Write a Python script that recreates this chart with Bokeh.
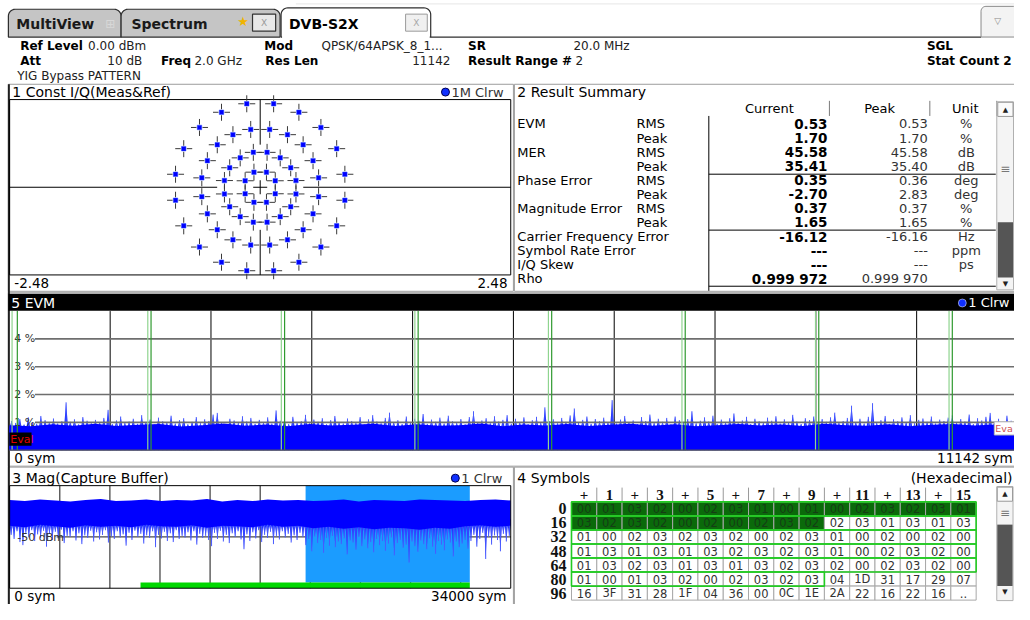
import numpy as np
from bokeh.plotting import figure
from bokeh.models import Range1d
from bokeh.core.properties import value
from bokeh.embed import file_html
from bokeh.resources import INLINE

# ======================= DATA =======================
# Constellation (I/Q) points, 64APSK rings
const_i = [0.062, 0.149, 0.068, 0.198, 0.302, 0.354, 0.094, 0.270, 0.425, 0.523, 0.578, 0.133, 0.383, 0.601, 0.757, 0.838,
           -0.062, -0.149, -0.068, -0.198, -0.302, -0.354, -0.094, -0.270, -0.425, -0.523, -0.578, -0.133, -0.383, -0.601, -0.757, -0.838,
           -0.062, -0.149, -0.068, -0.198, -0.302, -0.354, -0.094, -0.270, -0.425, -0.523, -0.578, -0.133, -0.383, -0.601, -0.757, -0.838,
           0.062, 0.149, 0.068, 0.198, 0.302, 0.354, 0.094, 0.270, 0.425, 0.523, 0.578, 0.133, 0.383, 0.601, 0.757, 0.838]
const_q = [0.151, 0.065, 0.349, 0.294, 0.195, 0.067, 0.578, 0.526, 0.425, 0.266, 0.094, 0.835, 0.750, 0.598, 0.386, 0.130,
           0.151, 0.065, 0.349, 0.294, 0.195, 0.067, 0.578, 0.526, 0.425, 0.266, 0.094, 0.835, 0.750, 0.598, 0.386, 0.130,
           -0.151, -0.065, -0.349, -0.294, -0.195, -0.067, -0.578, -0.526, -0.425, -0.266, -0.094, -0.835, -0.750, -0.598, -0.386, -0.130,
           -0.151, -0.065, -0.349, -0.294, -0.195, -0.067, -0.578, -0.526, -0.425, -0.266, -0.094, -0.835, -0.750, -0.598, -0.386, -0.130]
IQ_XMAX = 2.48
IQ_YMAX = 0.877

# EVM vs symbol (percent)
EVM_LEN = 11142
evm_pct = [1.05, 0.98, 1.12, 0.92, 1.18, 1.01, 0.95, 1.23, 1.08, 0.99, 1.14, 0.96, 1.04, 1.72, 1.02, 1.11, 0.93, 1.19, 1.06, 0.97,
           1.09, 1.00, 1.16, 1.45, 0.94, 1.07, 1.21, 0.98, 1.03, 1.13, 0.95, 1.26, 1.01, 1.10, 0.92, 1.17, 1.04, 0.99, 1.24, 0.96,
           1.08, 1.15, 0.93, 1.02, 1.19, 0.97, 1.11, 1.05, 1.28, 1.34, 1.00, 0.92, 1.13, 1.07, 0.98, 1.22, 1.03, 1.16, 0.95, 1.09,
           1.01, 1.18, 0.96, 1.43, 1.06, 1.12, 0.94, 1.20, 0.99, 1.04, 1.27, 0.97, 1.10, 1.02, 1.15, 0.93, 1.08, 1.23, 1.00, 0.96,
           1.14, 1.05, 0.98, 1.19, 0.92, 1.11, 1.26, 1.03, 0.97, 1.16, 1.35, 1.01, 1.08, 0.94, 1.21, 0.99, 1.13, 1.06, 1.30, 0.95,
           1.10, 1.02, 1.17, 0.96, 1.24, 1.04, 0.98, 1.12, 0.93, 1.19, 1.40, 1.00, 1.07, 1.15, 0.97, 1.22, 1.03, 1.09, 1.26, 0.95,
           1.13, 1.01, 1.18, 0.94, 1.08, 1.20, 0.99, 1.54, 1.05, 1.11, 0.97, 1.16, 1.02, 1.25, 1.50, 0.98, 1.09, 1.21, 0.95, 1.12,
           1.04, 1.17, 1.00, 1.80, 0.96, 1.10, 1.23, 1.01, 1.07, 0.94, 1.19, 1.05, 1.28, 0.98, 1.13, 1.02, 1.16, 0.93, 1.21, 1.08,
           0.99, 1.12, 1.40, 0.97, 1.06, 1.18, 1.03, 1.24, 0.95, 1.10, 1.01, 1.15, 1.32, 0.98, 1.07, 1.20, 0.94, 1.13, 1.04, 0.99,
           1.17, 1.06, 1.22, 0.96, 1.11, 1.00, 1.27, 1.03, 0.94, 1.15, 1.08, 1.21, 0.97, 1.12, 1.02, 1.18, 1.35, 0.99, 1.05, 1.16,
           1.60, 1.01, 1.13, 0.96, 1.20, 1.69, 0.98, 1.08, 1.23, 0.95, 1.11, 1.04, 1.18, 1.00, 1.26, 0.97, 1.09, 1.14, 1.02, 1.21,
           0.96, 1.10, 1.05, 1.17, 1.25, 0.99, 1.12, 1.03, 1.28, 0.94, 1.15, 1.07, 1.20, 1.34, 1.01, 1.13, 0.98, 1.24, 1.06, 1.10]
evm_floor = [0.90, 0.86, 0.93, 0.88, 0.95, 0.87, 0.91, 0.94, 0.85, 0.90, 0.96, 0.88, 0.92, 0.86, 0.94, 0.89,
             0.91, 0.95, 0.87, 0.93, 0.88, 0.90, 0.96, 0.86, 0.92, 0.89, 0.94, 0.87, 0.91, 0.95, 0.88, 0.93,
             0.86, 0.90, 0.94, 0.89, 0.92, 0.87, 0.95, 0.90, 0.88, 0.93, 0.86, 0.91, 0.94, 0.89, 0.92, 0.90]
evm_grid_pct = [1, 2, 3, 4]
evm_grid_lbl = ["1 %", "2 %", "3 %", "4 %"]
evm_mark_start = [30, 1530, 3006, 4482, 5958, 7434, 8910, 10386]
evm_mark_end = [88, 1566, 3042, 4518, 5994, 7470, 8946, 10422]

# Magnitude of capture buffer (dBm)
CAP_LEN = 34000
mag_top = [-42.8, -43.0, -42.7, -42.9, -43.1, -42.8, -42.6, -43.0, -42.9, -42.7, -43.0, -42.8, -42.9, -42.6, -43.1, -42.8, -43.0,
           -42.7, -42.9, -42.8, -43.0, -42.9, -42.7, -43.1, -42.8, -42.9, -43.0, -42.7, -42.8, -42.9, -43.0, -42.8, -42.7, -42.9]
mag_floor = [-47.8, -48.1, -47.6, -47.9, -48.2, -47.7, -48.0, -47.8, -48.1, -47.6, -47.9, -48.0, -47.7, -48.2, -47.8, -47.9, -48.1,
             -47.6, -48.0, -47.8, -48.3, -48.0, -48.4, -48.1, -48.5, -48.2, -48.3, -48.6, -48.2, -48.4, -47.9, -47.7, -48.0, -47.8]
mag_dips = [-49.6, -50.4, -48.9, -51.0, -51.6, -49.2, -50.1, -48.7, -50.8, -49.5, -50.2, -48.8, -51.9, -49.4, -50.6, -49.0, -50.3, -48.6, -51.2, -49.8,
            -50.0, -48.9, -50.7, -49.3, -51.4, -49.7, -50.2, -48.8, -50.9, -49.1, -50.5, -49.6, -48.7, -51.1, -49.9, -50.4, -48.9, -50.1, -49.5, -51.7,
            -49.2, -50.6, -48.8, -50.0, -49.4, -51.3, -49.7, -50.2, -48.9, -52.0, -49.6, -50.3, -49.0, -50.8, -49.3, -51.0, -48.7, -50.4, -49.8, -50.1,
            -49.1, -50.7, -48.9, -51.5, -49.4, -50.2, -49.8, -50.6, -51.8, -49.2, -50.4, -48.8, -50.9, -49.6, -51.2, -49.3, -50.0, -48.9, -50.5, -52.4,
            -49.5, -50.8, -49.1, -50.3, -48.7, -51.0, -49.6, -50.2, -49.0, -51.4, -49.8, -50.5, -48.9, -50.1, -49.4, -51.1, -49.7, -50.6, -49.2, -50.0,
            -51.6, -50.4, -52.8, -49.9, -51.2, -50.6, -53.1, -50.2, -51.7, -49.8, -52.0, -50.9, -51.4, -50.3, -53.4, -50.7, -51.1, -52.5, -50.0, -51.8,
            -50.5, -52.2, -51.0, -53.0, -50.4, -51.6, -50.8, -52.7, -51.3, -50.1, -53.6, -51.2, -50.6, -52.1, -51.5, -55.0, -50.9, -51.8, -52.9, -50.7,
            -51.4, -52.4, -50.3, -51.9, -53.3, -50.8, -51.5, -52.6, -50.5, -51.1, -53.8, -50.9, -52.0, -51.3, -50.6, -52.3,
            -50.8, -49.6, -51.9, -50.4, -49.2, -54.3, -50.0, -51.5, -49.7, -50.6, -52.8, -49.4, -50.9, -49.8]
cap_green = [8880, 31222]
res_start = 20080

# Result summary
sum_param = ["EVM", "", "MER", "", "Phase Error", "", "Magnitude Error", "", "Carrier Frequency Error",
             "Symbol Rate Error", "I/Q Skew", "Rho"]
sum_sub = ["RMS", "Peak", "RMS", "Peak", "RMS", "Peak", "RMS", "Peak", "", "", "", ""]
sum_cur = ["0.53", "1.70", "45.58", "35.41", "0.35", "-2.70", "0.37", "1.65", "-16.12", "---", "---", "0.999 972"]
sum_peak = ["0.53", "1.70", "45.58", "35.40", "0.36", "2.83", "0.37", "1.65", "-16.16", "---", "---", "0.999 970"]
sum_unit = ["%", "%", "dB", "dB", "deg", "deg", "%", "%", "Hz", "ppm", "ps", ""]

# Symbols (hexadecimal)
sym_hdr = ["+", "1", "+", "3", "+", "5", "+", "7", "+", "9", "+", "11", "+", "13", "+", "15"]
sym_row_lbl = ["0", "16", "32", "48", "64", "80", "96"]
sym_vals = ["00 01 03 02 00 02 03 01 00 01 00 02 03 02 03 01",
            "03 02 03 02 00 02 00 02 03 02 02 03 01 03 01 03",
            "01 00 02 03 02 03 02 00 02 03 01 00 02 00 02 00",
            "01 03 01 03 01 03 02 03 02 03 01 00 02 03 02 00",
            "01 03 02 03 01 03 01 03 02 03 02 00 02 03 02 00",
            "01 00 01 03 02 00 02 03 02 03 04 1D 31 17 29 07",
            "16 3F 31 28 1F 04 36 00 0C 1E 2A 22 16 22 16 .."]
sym_dark = 26      # header symbols (dark green)
sym_framed = 90    # symbols inside green frame

# ======================= FIGURE =======================
FONT = "DejaVu Sans"
SERIF = "Liberation Serif"
X0, X1 = 0, 1030
Y0, Y1 = 620, 0

p = figure(width=1014, height=604, x_range=Range1d(X0, X1), y_range=Range1d(Y0, Y1),
           x_axis_type=None, y_axis_type=None, toolbar_location=None, output_backend="svg",
           min_border=0, outline_line_color=None,
           background_fill_color="white", border_fill_color="white")


def map_range(d0, d1, a0, a1, r0, r1):
    k = (d1 - d0) / (a1 - a0)
    return Range1d(start=d0 + (r0 - a0) * k, end=d0 + (r1 - a0) * k)


def T(x, y, s, size=13, bold=False, align="left", color="#000", font=FONT, xr="default", yr="default"):
    p.text(x=np.atleast_1d(x), y=np.atleast_1d(y), text=list(np.atleast_1d(s)), text_font=value(font),
           text_font_size=f"{size}px", text_font_style="bold" if bold else "normal",
           text_align=align, text_baseline="middle", text_color=color,
           x_range_name=xr, y_range_name=yr)


def seg(x0, y0, x1, y1, color="#000", width=1.0, xr="default", yr="default", alpha=1.0):
    x0, y0, x1, y1 = np.broadcast_arrays(np.atleast_1d(x0), np.atleast_1d(y0), np.atleast_1d(x1), np.atleast_1d(y1))
    p.segment(x0=x0, y0=y0, x1=x1, y1=y1, line_color=color, line_width=width, line_alpha=alpha,
              x_range_name=xr, y_range_name=yr)


def box(l, t, r, b, line="#000", width=1.0, fill=None, xr="default", yr="default"):
    p.quad(left=np.atleast_1d(l), right=np.atleast_1d(r), top=np.atleast_1d(t), bottom=np.atleast_1d(b),
           fill_color=fill, line_color=line, line_width=width, x_range_name=xr, y_range_name=yr)


def tab_shape(x0, x1, y0, y1, r=7):
    t1 = np.linspace(np.pi, 1.5 * np.pi, 8)
    t2 = np.linspace(1.5 * np.pi, 2 * np.pi, 8)
    xs = [x0] + list(x0 + r + r * np.cos(t1)) + list(x1 - r + r * np.cos(t2)) + [x1]
    ys = [y1] + list(y0 + r + r * np.sin(t1)) + list(y0 + r + r * np.sin(t2)) + [y1]
    return xs, ys


def spike_outline(xc, tops, half, base):
    """triangular outline for each spike (drawing helper)"""
    xc = np.asarray(xc, float)
    tops = np.asarray(tops, float)
    xs = np.column_stack([xc - half, xc, xc + half]).ravel()
    ys = np.column_stack([np.full_like(tops, base), tops, np.full_like(tops, base)]).ravel()
    return xs, ys


# ---------------- tab bar ----------------
seg(300, 3.5, 1030, 3.5, color="#e6e6e6", width=1)
for (a, b_, top) in [(8, 122.5, 9), (122.5, 284, 9)]:
    xs, ys = tab_shape(a, b_, top, 37.5)
    p.patch(xs, ys, fill_color="#c5c5c5", line_color="#2e2e2e", line_width=1.2)
xs, ys = tab_shape(285, 437, 7.5, 37.5)
p.patch(xs, ys, fill_color="white", line_color="#2e2e2e", line_width=1.2)
seg(286, 37.5, 436, 37.5, color="white", width=2.5)
seg(437, 37.5, 996, 37.5, color="#2e2e2e", width=1.2)
T(16, 24.5, "MultiView", size=14, bold=True, color="#1a1a1a")
T(111.5, 24, "⊞", size=12, align="center", color="#d8d8d8")
T(133, 24.5, "Spectrum", size=14, bold=True, color="#1a1a1a")
T(246.5, 22, "★", size=13, align="center", color="#f0b400")
T(293, 24.5, "DVB-S2X", size=14, bold=True, color="#000")
box(256, 14, 279.5, 31.5, line="#333", width=1.2, fill="#e8e8e8")
T(267.8, 23, "X", size=9, align="center", color="#9a9a9a")
box(411.5, 14, 433.5, 31.5, line="#9a9a9a", width=1, fill="#f0f0f0")
T(422.5, 23, "X", size=9, align="center", color="#a8a8a8")
xs, ys = tab_shape(996, 1034, 6, 37.5, r=5)
p.patch(xs, ys, fill_color="#f3f3f3", line_color="#8a8a8a", line_width=1)
T(1013, 21, "▽", size=9, align="center", color="#888")

# ---------------- header info ----------------
HC = "#222"
HS = 12
T(20, 47, "Ref Level", size=HS, bold=True)
T(89, 47, "0.00 dBm", size=HS, color=HC)
T(268, 47, "Mod", size=HS, bold=True)
T(326, 47, "QPSK/64APSK_8_1...", size=HS, color=HC)
T(475, 47, "SR", size=HS, bold=True)
T(582, 47, "20.0 MHz", size=HS, color=HC)
T(941, 47, "SGL", size=HS, bold=True)
T(20, 62, "Att", size=HS, bold=True)
T(144, 62, "10 dB", size=HS, align="right", color=HC)
T(163, 62, "Freq", size=HS, bold=True)
T(197, 62, "2.0 GHz", size=HS, color=HC)
T(269, 62, "Res Len", size=HS, bold=True)
T(457, 62, "11142", size=HS, align="right", color=HC)
T(475, 62, "Result Range #", size=HS, bold=True)
T(584, 62, "2", size=HS, color=HC)
T(941, 62, "Stat Count 2", size=HS, bold=True)
T(17, 77.5, "YIG Bypass PATTERN", size=HS, color=HC)

# ---------------- panel frames ----------------
PF = "#9c9c9c"
box(8, 86, 521, 298.5, line=PF)
box(522, 86, 1031, 298.5, line=PF)
box(8, 300, 1031, 478, line=PF)
box(8, 479, 521, 621, line=PF)
box(522, 479, 1031, 621, line=PF)
seg(8.5, 86, 8.5, 620, color="#202020", width=2)

# ======================= 1 Const I/Q =======================
IQ_L, IQ_R, IQ_T, IQ_B = 9.3, 518.3, 101.7, 281.7
p.extra_x_ranges["iqx"] = map_range(-IQ_XMAX, IQ_XMAX, IQ_L, IQ_R, X0, X1)
p.extra_y_ranges["iqy"] = map_range(-IQ_YMAX, IQ_YMAX, IQ_B, IQ_T, Y0, Y1)
T(12, 94, "1 Const I/Q(Meas&Ref)", size=14)
p.scatter(x=[452], y=[94], size=8, marker="circle", fill_color="#1030ff", line_color="#000050")
T(458, 94, "1M Clrw", size=13, color="#333")
box(IQ_L, IQ_T, IQ_R, IQ_B, line="#000", width=1)
GAP = 0.426
seg([-IQ_XMAX, GAP], [0, 0], [-GAP, IQ_XMAX], [0, 0], color="#000", width=1, xr="iqx", yr="iqy")
seg([0, 0], [GAP, -IQ_YMAX], [0, 0], [IQ_YMAX, -GAP], color="#000", width=1, xr="iqx", yr="iqy")
p.scatter(x=[0], y=[0], size=14, marker="cross", line_color="#000", line_width=1, x_range_name="iqx", y_range_name="iqy")
p.scatter(x=const_i, y=const_q, size=17, marker="cross", line_color="#3a3a3a", line_width=1,
          x_range_name="iqx", y_range_name="iqy")
p.scatter(x=const_i, y=const_q, size=6, marker="square", fill_color="white", line_color=None,
          x_range_name="iqx", y_range_name="iqy")
p.scatter(x=const_i, y=const_q, size=4.5, marker="square", fill_color="#0000ff", line_color="#2a4aff", line_width=0.5,
          x_range_name="iqx", y_range_name="iqy")
T(14, 290, "-2.48", size=13.5)
T(515, 290, "2.48", size=13.5, align="right")

# ======================= 2 Result Summary =======================
T(525, 94, "2 Result Summary", size=14)
SUM_Y0, SUM_DY = 126.7, 14.45
rows_y = SUM_Y0 + SUM_DY * np.arange(len(sum_cur))
T(781, 111, "Current", size=13, align="center")
T(893, 111, "Peak", size=13, align="center")
T(980, 111, "Unit", size=13, align="center")
seg([842, 944, 1012], 103, [842, 944, 1012], 118.5, color="#7a7a7a", width=1)
seg(719.5, 118.5, 719.5, 298, color="#000", width=1)
seg(719.5, [178.3, 235.7, 293.3], 1011, [178.3, 235.7, 293.3], color="#000", width=1)
T(np.full(len(rows_y), 525.0), rows_y, sum_param, size=13)
T(np.full(len(rows_y), 646.0), rows_y, sum_sub, size=13)
T(np.full(len(rows_y), 840.0), rows_y, sum_cur, size=13.5, bold=True, align="right")
T(np.full(len(rows_y), 942.0), rows_y, sum_peak, size=13, align="right", color="#333")
T(np.full(len(rows_y), 981.0), rows_y, sum_unit, size=13, align="center", color="#333")
box(1012, 104, 1029, 297, line="#b0b0b0", fill="#f4f4f4")
box(1013, 104.5, 1028.5, 119, line="#9a9a9a", fill="#fafafa")
T(1020.7, 112, "▲", size=7, align="center", color="#222")
T(1020.7, 172.5, "≡", size=12, align="center", color="#777")
box(1013, 227.7, 1028.5, 284.3, line=None, fill="#555555")
T(1020.7, 291, "▼", size=7, align="center", color="#222")

# ======================= 5 EVM =======================
EVM_L, EVM_R, EVM_T, EVM_B = 9, 1033, 318.8, 461.6
p.extra_x_ranges["evx"] = map_range(0, EVM_LEN, EVM_L, EVM_R, X0, X1)
p.extra_y_ranges["evy"] = map_range(0, 5, EVM_B, EVM_T, Y0, Y1)
box(8, 301, 1031, 318.5, line=None, fill="#000000")
T(11, 310.5, "5 EVM", size=14, color="white")
p.scatter(x=[977], y=[310.5], size=8, marker="circle", fill_color="#1030ff", line_color="#ffffff", line_width=0.5)
T(983, 310.5, "1 Clrw", size=13, color="white")
vg = EVM_LEN * np.arange(1, 10) / 10
seg(vg, 0, vg, 5, color="#000", width=1, xr="evx", yr="evy")
step = EVM_LEN / len(evm_pct)
evm_x = (np.arange(len(evm_pct)) + 0.5) * step
floor_x = np.arange(len(evm_floor)) * EVM_LEN / (len(evm_floor) - 1)
zx, zy = spike_outline(evm_x, evm_pct, 0.5 * step, 0.78)
p.varea(x=zx, y1=0, y2=zy, fill_color="#1428ff", x_range_name="evx", y_range_name="evy")
seg(evm_x, 0, evm_x, evm_pct, color="#4a5cff", width=1.0, xr="evx", yr="evy")
p.varea(x=floor_x, y1=0, y2=evm_floor, fill_color="#0000ff", x_range_name="evx", y_range_name="evy")
seg(35, evm_grid_pct, 1031, evm_grid_pct, color="#6e6e6e", width=1.6, yr="evy")
T(np.full(4, 14.0), evm_grid_pct, evm_grid_lbl, size=11, color="#333", yr="evy")
seg(evm_mark_start, 0, evm_mark_start, 5, color="#8fd48f", width=1.2, xr="evx", yr="evy")
seg(evm_mark_end, 0, evm_mark_end, 5, color="#2f9a2f", width=1.2, xr="evx", yr="evy")
seg(9, EVM_B, 1031, EVM_B, color="#555", width=1.2)
box(9, 443.5, 31.5, 457, line=None, fill="#000")
T(10, 450.5, "Eval", size=11, color="#e00000")
box(1009.5, 432.5, 1032, 446, line="#b8b8b8", fill="white")
T(1010.5, 439.5, "Eva", size=9.5, color="#d05050")
T(14, 470, "0 sym", size=13.5)
T(1028, 470, "11142 sym", size=13.5, align="right")

# ======================= 3 Mag(Capture Buffer) =======================
MAG_L, MAG_R, MAG_T, MAG_B = 9.3, 518.3, 498, 603.3
p.extra_x_ranges["mgx"] = map_range(0, CAP_LEN, MAG_L, MAG_R, X0, X1)
p.extra_y_ranges["mgy"] = map_range(-60, -40, MAG_B, MAG_T, Y0, Y1)
T(12, 490.3, "3 Mag(Capture Buffer)", size=14)
p.scatter(x=[462], y=[490.3], size=8, marker="circle", fill_color="#1030ff", line_color="#000050")
T(468, 490.3, "1 Clrw", size=13, color="#333")
mg = CAP_LEN * np.arange(1, 10) / 10
seg(mg, -60, mg, -40, color="#4a4a4a", width=1.3, xr="mgx", yr="mgy")
seg(57, -50, MAG_R, -50, color="#4a4a4a", width=1.3, yr="mgy")
box(res_start, -40, res_start + EVM_LEN, -58.9, line=None, fill="#1b9cff", xr="mgx", yr="mgy")
box(cap_green[0], -58.9, cap_green[1], -60, line=None, fill="#00d800", xr="mgx", yr="mgy")
band_x = np.arange(len(mag_top)) * CAP_LEN / (len(mag_top) - 1)
mstep = CAP_LEN / len(mag_dips)
dip_x = (np.arange(len(mag_dips)) + 0.5) * mstep
dx, dy = spike_outline(dip_x, mag_dips, 0.5 * mstep, -47.8)
p.varea(x=dx, y1=-46.5, y2=dy, fill_color="#1a2cff", x_range_name="mgx", y_range_name="mgy")
seg(dip_x, -46.5, dip_x, mag_dips, color="#4a5cff", width=1.0, xr="mgx", yr="mgy")
p.varea(x=band_x, y1=mag_floor, y2=mag_top, fill_color="#0000ff", x_range_name="mgx", y_range_name="mgy")
T(17, 551, "-50 dBm", size=11, color="#333")
box(MAG_L, MAG_T, MAG_R, MAG_B, line="#000", width=1)
T(14, 611.3, "0 sym", size=13.5)
T(514, 611.3, "34000 sym", size=13.5, align="right")

# ======================= 4 Symbols =======================
T(525, 490.3, "4 Symbols", size=14)
T(1028, 490.3, "(Hexadecimal)", size=14, align="right")
SX0, SCW = 580.0, 25.69
SY0, SRH = 514.7, 14.4
col_l = SX0 + SCW * np.arange(16)
col_c = col_l + SCW / 2
seg(col_l[1:], 500, col_l[1:], SY0, color="#9a9a9a", width=1)
T(col_c, np.full(16, 507.3), sym_hdr, size=15, bold=True, font=SERIF, align="center", color="#111")
cl, ct, cr, cb, cf = [], [], [], [], []
tx, ty, tt, tc = [], [], [], []
for r, rowstr in enumerate(sym_vals):
    for c, v in enumerate(rowstr.split()):
        n = r * 16 + c
        dark = n < sym_dark
        cl.append(col_l[c]); cr.append(col_l[c] + SCW)
        ct.append(SY0 + SRH * r); cb.append(SY0 + SRH * (r + 1))
        cf.append("#0a6a0a" if dark else "white")
        tx.append(col_c[c]); ty.append(SY0 + SRH * (r + 0.5)); tt.append(v)
        tc.append("#153d15" if dark else "#333333")
p.quad(left=cl, right=cr, top=ct, bottom=cb, fill_color=cf, line_color="#a8a8a8", line_width=1)
p.text(x=tx, y=ty, text=tt, text_color=tc, text_font=value(FONT), text_font_size="11.5px",
       text_align="center", text_baseline="middle")
for r in range(len(sym_vals)):
    n_in = min(max(sym_framed - r * 16, 0), 16)
    if n_in > 0:
        box(SX0, SY0 + SRH * r, SX0 + SCW * n_in, SY0 + SRH * (r + 1), line="#22cc22", width=1.6)
T(np.full(len(sym_row_lbl), 575.0), SY0 + SRH * (np.arange(len(sym_row_lbl)) + 0.5), sym_row_lbl,
  size=16, bold=True, font=SERIF, align="right", color="#111")
box(1012, 499, 1028.5, 616, line="#b0b0b0", fill="#f4f4f4")
box(1012.5, 499.5, 1028, 514, line="#9a9a9a", fill="#fafafa")
T(1020.3, 507, "▲", size=7, align="center", color="#222")
T(1020.3, 526, "≡", size=12, align="center", color="#777")
box(1012.5, 538, 1028, 601, line=None, fill="#555555")
T(1020.3, 607.5, "▼", size=7, align="center", color="#222")

open("out.html", "w").write(file_html(p, INLINE))
